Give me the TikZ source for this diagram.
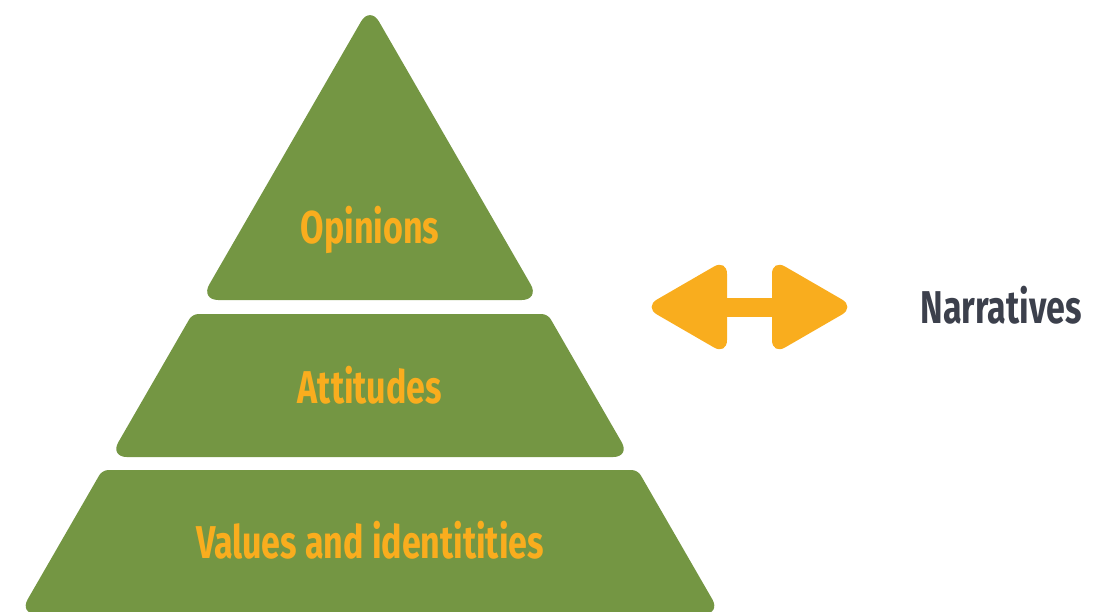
\documentclass[tikz,border=0pt]{standalone}
\usepackage{fontspec}
\usepackage{tikz}
\newfontfamily\condfont[FakeStretch=0.74]{Fira Sans}
\definecolor{pyrgreen}{RGB}{116,150,67}
\definecolor{pyrorange}{RGB}{249,173,30}
\definecolor{narrgray}{RGB}{60,64,76}
\tikzset{
band/.style={fill=pyrgreen},
layertext/.style={text=pyrorange, font=\condfont\bfseries\fontsize{46}{50}\selectfont},
arrowpart/.style={fill=pyrorange, rounded corners=15pt}
}

\begin{document}
\begin{tikzpicture}[x=1pt,y=-1pt]
\useasboundingbox (0,0) rectangle (1100,611);
\fill[band, rounded corners=18pt] (370,6) -- (539.7,300) -- (200.3,300) -- cycle;
\fill[band] (370,314) [rounded corners=6pt] -- (547.7,314) [rounded corners=17pt] -- (630.2,457) -- (109.8,457) [rounded corners=6pt] -- (192.3,314) -- cycle;
\fill[band] (370,470) [rounded corners=6pt] -- (637.7,470) [rounded corners=17pt] -- (720.8,614) -- (19.2,614) [rounded corners=6pt] -- (102.3,470) -- cycle;
\node[layertext] (opinions) at (370,230) {Opinions};
\node[layertext] (attitudes) at (370,385) {Attitudes};
\node[layertext] (values) at (370,540) {Values and identitities};
\fill[arrowpart] (727,259) -- (644,307) -- (727,355) -- cycle;
\fill[arrowpart] (772,259) -- (855,307) -- (772,355) -- cycle;
\fill[pyrorange] (720,298) rectangle (780,317);
\node[text=narrgray, font=\condfont\bfseries\fontsize{46}{50}\selectfont] (narratives) at (1001,305) {Narratives};
\end{tikzpicture}
\end{document}
